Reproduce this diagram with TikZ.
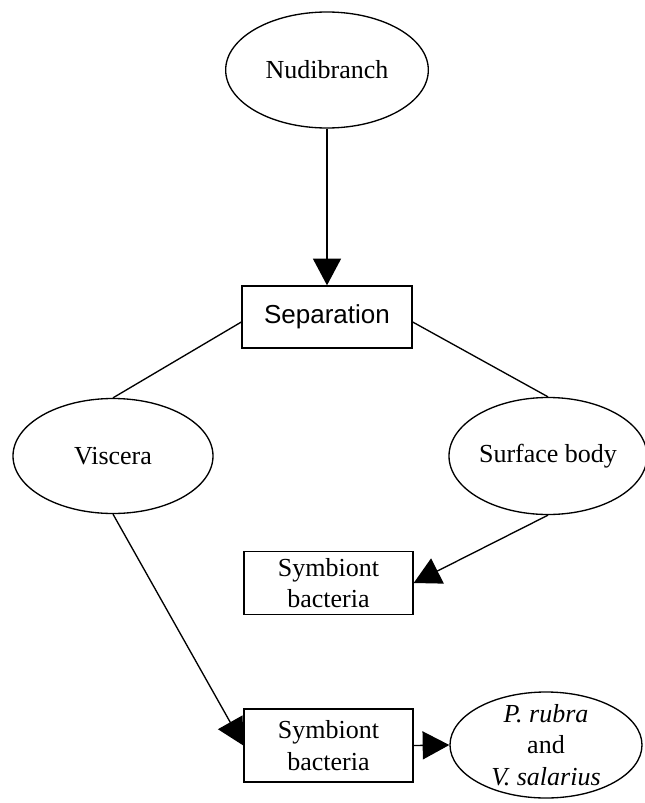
\documentclass[tikz,border=0pt]{standalone}
\usepackage{fontspec}
\setmainfont{Liberation Serif}
\newfontfamily\sepfont{Liberation Sans}
\usetikzlibrary{shapes.geometric,arrows.meta,calc}
\tikzset{
  base/.style={draw=black, line width=1pt, inner sep=0pt, align=center,
    font=\fontsize{19.5}{23.5}\selectfont},
  oval/.style={base, ellipse},
  boxn/.style={base, rectangle},
  conn/.style={draw=black, line width=1pt},
  arr/.style={conn, -{Triangle[length=20pt,width=21pt]}},
}
\begin{document}
\begin{tikzpicture}[x=0.75pt,y=-0.75pt]
\useasboundingbox (0,0) rectangle (645,803);
\node[oval, minimum width=152pt, minimum height=87pt] (nudi) at (327,70) {Nudibranch};
\node[boxn, minimum width=127.5pt, minimum height=46.5pt, font=\sepfont\fontsize{19.5}{23.5}\selectfont] (sep) at (327,317) {Separation};
\node[oval, minimum width=150pt, minimum height=86.25pt] (visc) at (113,456) {Viscera};
\node[oval, minimum width=148.5pt, minimum height=87.75pt] (surf) at (548,456) {Surface body};
\node[boxn, minimum width=126.75pt, minimum height=47.25pt] (sym1) at (328.5,583) {Symbiont\\bacteria};
\node[boxn, minimum width=126.75pt, minimum height=54.75pt] (sym2) at (328.5,745.5) {Symbiont\\bacteria};
\node[oval, inner ysep=-3pt, minimum width=144pt, minimum height=79.5pt] (prub) at (546,745) {\textit{P. rubra}\\and\\\textit{V. salarius}};

\draw[arr] (nudi.south) -- (sep.north);
\draw[conn] ($(sep.west)+(0,5)$) -- (visc.north);
\draw[conn] ($(sep.east)+(0,5)$) -- (surf.north);
\draw[arr] (surf.south) -- (sym1.east);
\draw[arr] (visc.south) -- (sym2.west);
\draw[arr] (sym2.east) -- (prub.west);
\end{tikzpicture}
\end{document}
